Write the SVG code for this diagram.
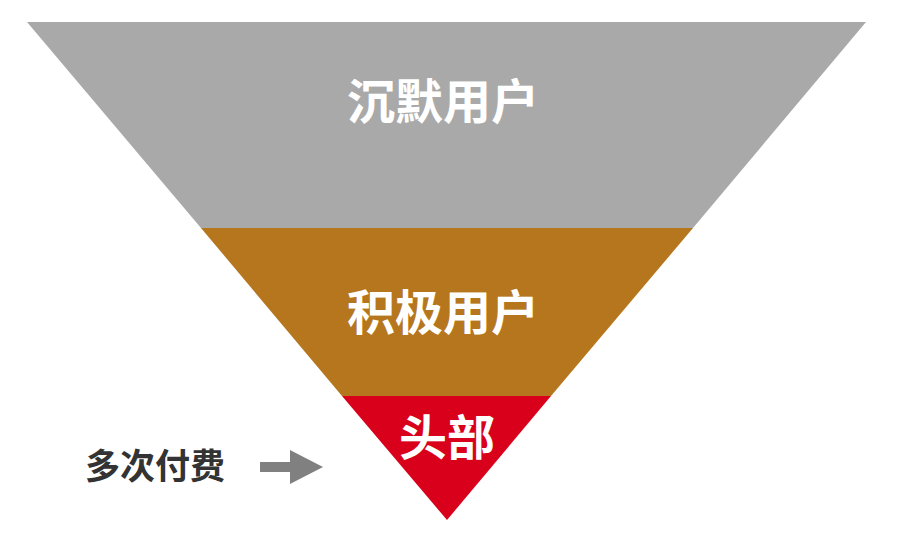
<svg xmlns="http://www.w3.org/2000/svg" width="900" height="552" viewBox="0 0 900 552">
<style>
.t{font-family:"Noto Sans CJK SC",sans-serif;font-weight:bold;text-anchor:middle;}
.w{fill:#fff;font-size:48px;}
</style>
<rect width="900" height="552" fill="#fff"/>
<g id="silent"><polygon points="27,22 866,22 693,228 201,228" fill="#a9a9a9"/><text class="t w" x="443" y="119">沉默用户</text></g>
<g id="active"><polygon points="201,228 693,228 551,396 342,396" fill="#b5761e"/><text class="t w" x="443" y="330">积极用户</text></g>
<g id="head"><polygon points="342,396 551,396 447,520" fill="#d9001b"/><text class="t w" x="447" y="455">头部</text></g>
<g id="label"><text class="t" x="155" y="479" font-size="35" fill="#333">多次付费</text></g>
<g id="connectors"><path d="M260,467 H296" stroke="#808080" stroke-width="10"/><polygon points="290,450 323,467 290,484" fill="#808080"/></g>
</svg>
